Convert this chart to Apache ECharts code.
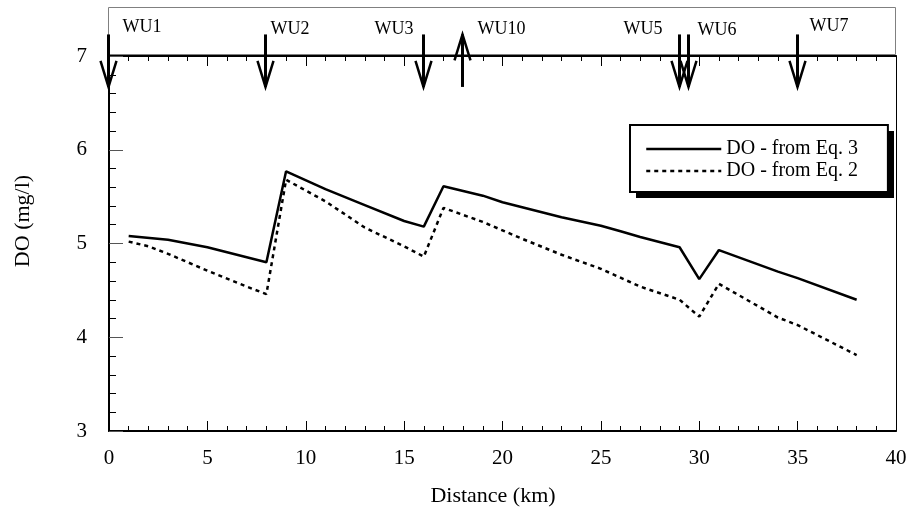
<!DOCTYPE html>
<html>
<head>
<meta charset="utf-8">
<script src="https://cdn.jsdelivr.net/npm/echarts@6/dist/echarts.min.js"></script>
<style>
  html, body { margin: 0; padding: 0; background: #fff; }
  #chart { width: 910px; height: 516px; }
</style>
</head>
<body>
<div id="chart"></div>
<script>
// Dissolved oxygen along the river, two estimates
const distanceEq3 = [1, 3, 5, 8, 9, 11, 13, 15, 16, 17, 19, 20, 23, 25, 26, 27, 29, 30, 31, 34, 35, 38];
const doEq3 = [5.08, 5.04, 4.96, 4.80, 5.77, 5.58, 5.41, 5.24, 5.18, 5.61, 5.51, 5.44, 5.28, 5.19, 5.13, 5.07, 4.96, 4.62, 4.93, 4.70, 4.63, 4.40];

const distanceEq2 = [1, 2, 3, 5, 7, 8, 9, 11, 13, 15, 16, 17, 19, 21, 23, 25, 27, 29, 30, 31, 34, 35, 38];
const doEq2 = [5.02, 4.97, 4.89, 4.71, 4.54, 4.46, 5.68, 5.45, 5.17, 4.97, 4.86, 5.38, 5.23, 5.05, 4.88, 4.73, 4.54, 4.40, 4.22, 4.57, 4.21, 4.13, 3.81];

// Water-use points: name, distance (km), direction (+1 = inflow, -1 = withdrawal)
const wuNames = ['WU1', 'WU2', 'WU3', 'WU10', 'WU5', 'WU6', 'WU7'];
const wuDistance = [0, 8, 16, 18, 29, 29.5, 35];
const wuDirection = [-1, -1, -1, 1, -1, -1, -1];

const xTicks = [0, 5, 10, 15, 20, 25, 30, 35, 40];
const yTicks = [3, 4, 5, 6, 7];

const seriesNames = ['DO - from Eq. 3', 'DO - from Eq. 2'];

// label placement beside each arrow: [dx, y, align]
const wuLabelLayout = [
  [14, 27, 'left'], [5, 29.5, 'left'], [-10, 29, 'right'], [15, 29, 'left'],
  [-17, 29, 'right'], [9, 30.5, 'left'], [12, 26, 'left']
];

const serif = '"Liberation Serif", "Times New Roman", serif';

const chart = echarts.init(document.getElementById('chart'), null, { renderer: 'canvas' });

const zip = (xs, ys) => xs.map((x, i) => [x, ys[i]]);

const axisCommonX = {
  type: 'value',
  min: xTicks[0],
  max: xTicks[xTicks.length - 1],
  interval: xTicks[1] - xTicks[0],
  splitLine: { show: false }
};

const legendBox = { left: 630, top: 125, width: 258, height: 67 };

const option = {
  backgroundColor: '#fff',
  animation: false,
  grid: { left: 109, right: 14, top: 56, bottom: 85, containLabel: false },
  legend: {
    orient: 'vertical',
    left: legendBox.left,
    top: legendBox.top,
    padding: [14, 30, 11, 15],
    itemWidth: 75,
    itemHeight: 14,
    itemGap: 2,
    backgroundColor: '#fff',
    borderColor: '#000',
    borderWidth: 2,
    borderRadius: 0,
    selectedMode: false,
    itemStyle: { opacity: 0 },
    lineStyle: { width: 2.5 },
    textStyle: { fontFamily: serif, fontSize: 20, color: '#000', lineHeight: 20 },
    data: seriesNames
  },
  xAxis: [
    Object.assign({}, axisCommonX, {
      position: 'bottom',
      axisLine: { show: true, onZero: false, lineStyle: { color: '#000', width: 2 } },
      axisTick: { show: true, inside: true, length: 10, lineStyle: { color: '#000', width: 1 } },
      minorTick: { show: true, splitNumber: 5, length: 5, lineStyle: { color: '#000', width: 1 } },
      axisLabel: { fontFamily: serif, fontSize: 21, color: '#000', margin: 17 }
    }),
    Object.assign({}, axisCommonX, {
      position: 'top',
      axisLine: { show: true, onZero: false, lineStyle: { color: '#000', width: 2 } },
      axisTick: { show: true, inside: true, length: 10, lineStyle: { color: '#000', width: 1 } },
      minorTick: { show: true, splitNumber: 5, length: 5, lineStyle: { color: '#000', width: 1 } },
      axisLabel: { show: false }
    })
  ],
  yAxis: [
    {
      type: 'value',
      position: 'left',
      min: yTicks[0],
      max: yTicks[yTicks.length - 1],
      interval: yTicks[1] - yTicks[0],
      splitLine: { show: false },
      axisLine: { show: true, onZero: false, lineStyle: { color: '#000', width: 2 } },
      axisTick: { show: true, inside: true, length: 14, lineStyle: { color: '#555', width: 1 } },
      minorTick: { show: true, splitNumber: 5, length: 7, lineStyle: { color: '#000', width: 1 } },
      axisLabel: { fontFamily: serif, fontSize: 21, color: '#000', margin: 22 }
    },
    {
      type: 'value',
      position: 'right',
      min: yTicks[0],
      max: yTicks[yTicks.length - 1],
      splitLine: { show: false },
      axisLine: { show: true, onZero: false, lineStyle: { color: '#000', width: 1 } },
      axisTick: { show: false },
      axisLabel: { show: false }
    }
  ],
  graphic: [
    {
      // frame of the water-use strip above the plot
      type: 'rect',
      z: 0,
      shape: { x: 108.5, y: 7.5, width: 787, height: 47 },
      style: { fill: 'none', stroke: '#808080', lineWidth: 1 }
    },
    {
      // drop shadow behind the legend box
      type: 'rect',
      z: 0,
      shape: { x: legendBox.left + 6, y: legendBox.top + 6, width: legendBox.width, height: legendBox.height },
      style: { fill: '#000' }
    },
    {
      type: 'text',
      x: 23, y: 221,
      rotation: Math.PI / 2,
      style: { text: 'DO (mg/l)', font: '22px ' + serif, fill: '#000', align: 'center', verticalAlign: 'middle' }
    },
    {
      type: 'text',
      x: 493, y: 496,
      style: { text: 'Distance (km)', font: '22px ' + serif, fill: '#000', align: 'center', verticalAlign: 'middle' }
    }
  ],
  series: [
    {
      name: seriesNames[0],
      type: 'line',
      data: zip(distanceEq3, doEq3),
      symbol: 'none',
      lineStyle: { color: '#000', width: 2.5, type: 'solid' },
      itemStyle: { color: '#000' },
      z: 3
    },
    {
      name: seriesNames[1],
      type: 'line',
      data: zip(distanceEq2, doEq2),
      symbol: 'none',
      lineStyle: { color: '#000', width: 2.5, type: [4, 4] },
      itemStyle: { color: '#000' },
      z: 3
    },
    {
      name: 'water use',
      type: 'custom',
      clip: false,
      silent: true,
      z: 5,
      data: wuDistance.map((d, i) => [d, wuDirection[i]]),
      encode: { x: 0 },
      renderItem: function (params, api) {
        const i = params.dataIndex;
        const x = Math.round(api.coord([api.value(0), 7])[0]) - 0.5;
        const top = api.coord([0, 7.23])[1];
        const bottom = api.coord([0, 6.67])[1];
        const up = api.value(1) > 0;
        const tip = up ? top : bottom;
        const base = up ? tip + 26 : tip - 26;
        const lay = wuLabelLayout[i];
        return {
          type: 'group',
          children: [
            {
              type: 'line',
              shape: { x1: x, y1: top, x2: x, y2: bottom },
              style: { stroke: '#000', lineWidth: 3 }
            },
            {
              type: 'polyline',
              shape: { points: [[x - 8, base], [x, tip], [x + 8, base]] },
              style: { stroke: '#000', lineWidth: 2.5, fill: 'none' }
            },
            {
              type: 'text',
              x: x + lay[0],
              y: lay[1],
              style: {
                text: wuNames[i],
                font: '18px ' + serif,
                fill: '#000',
                align: lay[2],
                verticalAlign: 'middle'
              }
            }
          ]
        };
      }
    }
  ]
};

chart.setOption(option);
</script>
</body>
</html>
